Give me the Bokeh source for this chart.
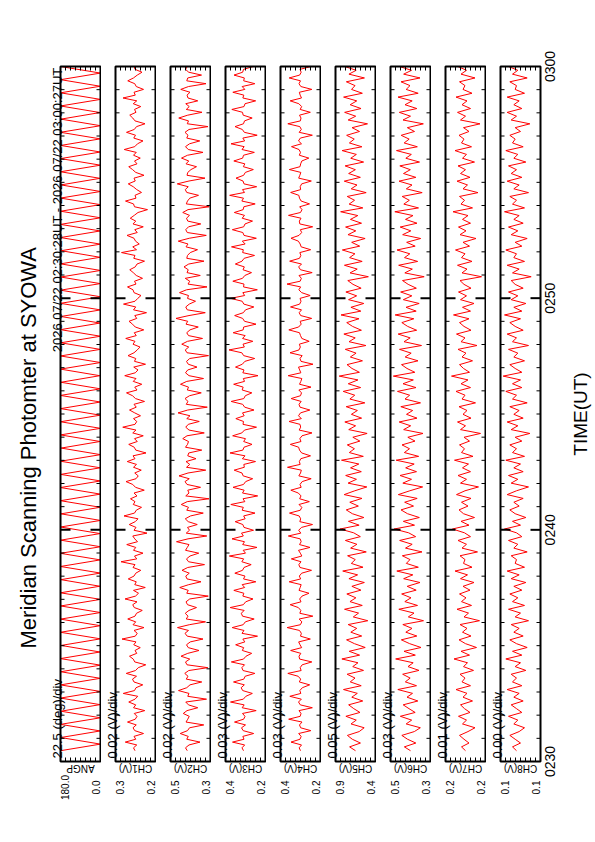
import numpy as np
from bokeh.plotting import figure
from bokeh.layouts import row
from bokeh.models import Range1d, Label
from bokeh.embed import file_html
from bokeh.resources import INLINE

# ---------------- data ----------------
TITLE = "Meridian Scanning Photomter at SYOWA"
HEADER = "2026 07/22 02:30:28UT - 2026 07/22 03:00:27UT"
TIME_LABEL = "TIME(UT)"
TIME_TICKS = [0, 10, 20, 30]              # minutes after 02:30
TIME_TICK_LABELS = ["0230", "0240", "0250", "0300"]
MINUTE_TICKS = [m for m in range(1, 30) if m % 10]
T_START = 28 / 60.0                        # first sample 02:30:28
T_END = 30.0                               # samples shown up to 03:00

NAMES = ["ANGP", "CH1(V)", "CH2(V)", "CH3(V)", "CH4(V)", "CH5(V)", "CH6(V)", "CH7(V)", "CH8(V)"]
UNITS = ["(deg)", "(V)", "(V)", "(V)", "(V)", "(V)", "(V)", "(V)", "(V)"]
RANGE_LO = [0.0, 0.18, 0.31, 0.18, 0.18, 0.44, 0.28, 0.16, 0.09]
RANGE_HI = [180.0, 0.34, 0.47, 0.42, 0.42, 0.86, 0.52, 0.24, 0.12]
N_DIV = 8

ANGP_DEG = [
180, 0, 179, 1, 180, 0, 178, 2, 180, 0, 180, 1, 179, 0, 180, 2, 177, 0, 180, 1,
180, 0, 179, 0, 180, 3, 178, 0, 180, 1, 180, 0, 179, 2, 180, 0, 178, 1, 180, 0,
180, 0, 179, 1, 180, 0, 177, 2, 180, 0, 180, 1, 179, 0, 180, 0, 178, 3, 180, 0,
180, 1, 179, 0, 180, 2, 178, 0, 180, 0, 180, 1, 179, 0, 180, 2, 177, 0, 180, 1,
180, 0, 179, 1, 180, 0, 178, 2, 180, 0, 180, 0, 179, 1, 180, 0, 178, 2, 180, 0,
180, 1, 179, 0, 180]

CH1_MV = [
262, 268, 255, 301, 259, 266, 228, 263, 270, 257, 292, 261,
254, 265, 223, 268, 259, 287, 262, 251, 309, 264, 258, 231,
266, 272, 256, 297, 260, 249, 219, 263, 269, 284, 255, 262,
241, 267, 258, 314, 261, 253, 266, 226, 270, 259, 291, 262,
256, 233, 265, 271, 254, 302, 260, 248, 268, 221, 263, 257,
289, 266, 259, 239, 270, 262, 318, 255, 264, 230, 268, 259,
295, 252, 263, 271, 214, 266, 258, 285, 261, 250, 306, 264,
257, 236, 269, 262, 280, 254, 266, 225, 260, 271, 298, 258,
249, 263, 237, 268, 256, 293, 262, 270, 218, 259, 265, 287,
253, 264, 229, 271, 258, 311, 262, 255, 268, 240, 263, 284,
257, 266, 224, 260, 272, 296, 254, 263, 235, 269, 258, 303,
261, 250, 267, 220, 264, 259, 290, 266, 253, 242, 270, 262,
299, 257, 265, 227, 261, 272, 286, 255, 263, 216, 268, 259,
308, 262, 251, 238, 266, 270, 292, 258, 264, 232, 257, 269,
283, 261, 254, 224, 267, 262, 316, 256, 271, 245, 260, 266,
294, 253, 263, 229, 270, 259, 281, 265, 250, 212, 264, 268,
300, 258, 262, 236, 255, 269, 289, 261, 266, 226, 259, 272,
287, 254, 264, 241, 268, 257, 305, 263, 252, 230, 267, 260,
296, 265, 256, 222, 262, 271, 283, 258, 264, 239, 269, 255,
310, 261, 266, 228, 257, 263, 291, 268, 253, 234, 262, 265]

CH2_MV = [
403, 410, 396, 352, 405, 399, 431, 402, 394, 337, 408, 401,
395, 419, 404, 361, 398, 409, 326, 401, 396, 438, 405, 392,
345, 407, 400, 413, 397, 321, 404, 410, 393, 428, 401, 356,
399, 406, 391, 340, 403, 412, 398, 442, 395, 330, 407, 400,
411, 396, 366, 402, 408, 393, 319, 405, 399, 433, 397, 348,
404, 409, 395, 424, 401, 334, 398, 406, 392, 357, 410, 403,
396, 446, 400, 325, 407, 394, 402, 363, 399, 411, 390, 339,
405, 398, 427, 403, 316, 409, 396, 401, 350, 404, 412, 395,
436, 400, 329, 406, 393, 408, 368, 401, 397, 345, 410, 402,
398, 421, 404, 335, 396, 409, 399, 355, 405, 392, 440, 401,
323, 407, 400, 412, 394, 347, 403, 398, 430, 405, 338, 396,
410, 401, 364, 399, 406, 393, 318, 404, 411, 397, 425, 402,
342, 398, 405, 392, 359, 408, 401, 448, 396, 331, 403, 409,
395, 370, 402, 398, 434, 406, 324, 400, 393, 411, 351, 404,
399, 416, 397, 336, 405, 402, 391, 362, 408, 400, 439, 395,
327, 403, 409, 398, 349, 401, 406, 394, 421, 400, 315, 407,
402, 393, 358, 405, 411, 399, 443, 396, 332, 404, 401, 388,
366, 408, 397, 426, 402, 340, 399, 410, 394, 353, 405, 400,
412, 396, 320, 403, 398, 437, 401, 344, 407, 395, 409, 361,
400, 404, 392, 429, 398, 328, 405, 401, 346, 397, 410, 403]

CH3_MV = [
312, 321, 305, 378, 309, 316, 251, 314, 324, 300, 366, 311,
303, 318, 236, 320, 308, 390, 313, 298, 259, 317, 326, 307,
372, 310, 302, 244, 315, 322, 306, 385, 312, 297, 263, 319,
311, 359, 304, 316, 228, 321, 309, 380, 314, 301, 248, 318,
325, 308, 392, 313, 299, 255, 316, 310, 370, 305, 320, 238,
312, 303, 364, 318, 309, 266, 322, 311, 397, 300, 314, 231,
317, 306, 381, 313, 324, 252, 309, 316, 362, 302, 311, 243,
320, 313, 388, 304, 315, 227, 318, 308, 375, 312, 299, 257,
314, 321, 368, 307, 310, 240, 319, 303, 393, 316, 309, 261,
311, 300, 377, 322, 306, 234, 315, 312, 358, 308, 318, 249,
305, 317, 386, 310, 301, 262, 320, 314, 371, 306, 313, 225,
316, 309, 360, 319, 304, 245, 311, 322, 399, 307, 315, 256,
318, 302, 374, 314, 311, 237, 306, 317, 365, 313, 300, 250,
310, 320, 389, 305, 316, 229, 312, 309, 376, 318, 304, 264,
315, 307, 361, 321, 308, 246, 317, 313, 384, 302, 319, 235,
309, 316, 379, 311, 303, 258, 320, 306, 367, 314, 310, 242,
322, 312, 395, 306, 318, 233, 309, 315, 357, 311, 301, 253,
313, 304, 370, 317, 312, 247, 321, 308, 387, 305, 316, 230,
307, 319, 363, 312, 306, 260, 314, 318, 382, 309, 303, 239,
316, 310, 376, 304, 320, 244, 311, 307, 369, 317, 312, 254]

CH4_MV = [
300, 308, 294, 357, 303, 296, 311, 238, 299, 306, 291, 371,
302, 297, 309, 229, 301, 312, 295, 364, 298, 304, 289, 245,
307, 299, 314, 376, 296, 302, 290, 232, 305, 309, 298, 359,
293, 303, 311, 241, 300, 295, 306, 380, 301, 292, 308, 226,
304, 298, 313, 362, 297, 305, 291, 249, 309, 302, 296, 368,
299, 307, 293, 234, 303, 310, 297, 355, 292, 301, 312, 243,
306, 296, 302, 373, 298, 311, 294, 228, 304, 299, 308, 366,
301, 292, 309, 247, 305, 297, 313, 358, 296, 303, 290, 236,
310, 300, 295, 378, 302, 307, 298, 240, 293, 306, 311, 361,
297, 304, 291, 231, 308, 299, 303, 369, 295, 312, 300, 244,
303, 309, 296, 356, 300, 294, 310, 237, 306, 298, 292, 374,
298, 305, 312, 225, 297, 303, 290, 363, 309, 301, 307, 248,
292, 300, 306, 370, 311, 296, 302, 233, 299, 308, 294, 360,
305, 297, 303, 242, 293, 310, 299, 381, 302, 295, 309, 230,
300, 311, 294, 365, 306, 298, 304, 239, 296, 302, 313, 357,
309, 293, 301, 227, 304, 307, 297, 372, 300, 291, 305, 246,
296, 306, 310, 359, 299, 302, 293, 235, 311, 304, 298, 367,
303, 299, 292, 250, 307, 300, 309, 354, 294, 312, 301, 229,
308, 295, 304, 376, 301, 297, 306, 241, 302, 293, 310, 362,
294, 302, 307, 232, 298, 309, 300, 368, 305, 296, 303, 238]

CH5_MV = [
650, 712, 598, 684, 735, 611, 559, 697, 642, 751, 603, 668, 722, 574, 689, 631, 776, 590, 705, 655,
738, 566, 679, 624, 793, 607, 716, 548, 661, 744, 585, 699, 637, 727, 521, 673, 618, 765, 579, 708,
646, 741, 593, 688, 557, 719, 628, 784, 571, 694, 652, 733, 537, 701, 635, 756, 599, 669, 812, 612,
724, 562, 683, 747, 620, 710, 582, 769, 657, 531, 728, 640, 753, 589, 702, 615, 797, 568, 715, 661,
736, 604, 678, 528, 721, 649, 762, 586, 693, 630, 748, 552, 709, 658, 779, 596, 726, 624, 821, 609,
687, 739, 577, 704, 644, 757, 541, 718, 653, 772, 588, 681, 742, 613, 802, 594, 698, 563, 723, 638,
751, 591, 676, 731, 515, 707, 632, 766, 580, 712, 656, 788, 606, 690, 549, 729, 647, 754, 587, 703,
626, 806, 573, 717, 660, 737, 538, 695, 634, 768, 599, 722, 651, 759, 565, 700, 641, 791, 583, 714,
663, 743, 608, 686, 524, 727, 648, 764, 592, 706, 637, 775, 578, 692, 655, 746, 556, 719, 643, 761]

CH6_MV = [
400, 437, 368, 418, 452, 377, 341, 426, 393, 461, 372, 409, 444, 356, 421, 388, 476, 364, 431, 402,
447, 349, 415, 384, 489, 371, 439, 337, 405, 455, 362, 428, 391, 446, 322, 413, 379, 470, 358, 434,
397, 453, 366, 420, 343, 441, 386, 482, 353, 425, 403, 449, 331, 430, 390, 465, 369, 411, 498, 376,
443, 347, 418, 457, 382, 435, 360, 473, 404, 327, 446, 394, 463, 364, 429, 378, 486, 351, 437, 406,
451, 373, 416, 325, 441, 399, 468, 361, 424, 387, 458, 340, 433, 405, 478, 367, 445, 383, 503, 374,
421, 454, 355, 432, 396, 466, 334, 439, 402, 474, 363, 417, 452, 380, 492, 366, 427, 348, 443, 392,
459, 365, 414, 448, 318, 434, 389, 471, 357, 436, 404, 481, 372, 423, 339, 447, 398, 462, 361, 430,
385, 494, 352, 440, 407, 450, 330, 425, 391, 469, 368, 442, 401, 464, 346, 428, 395, 484, 359, 438,
408, 456, 376, 419, 323, 445, 400, 467, 362, 433, 390, 475, 354, 426, 403, 457, 343, 441, 394, 466]

CH7_MV = [
200, 208, 193, 203, 212, 195, 181, 206, 198, 214, 191, 202, 210, 186, 205, 197, 219, 190, 207, 201,
211, 184, 204, 196, 223, 192, 209, 178, 200, 213, 189, 206, 197, 211, 172, 203, 194, 217, 188, 208,
199, 212, 191, 205, 183, 210, 196, 221, 187, 204, 201, 211, 176, 207, 198, 215, 190, 202, 226, 193,
209, 182, 204, 213, 195, 208, 189, 218, 201, 174, 210, 198, 215, 190, 206, 194, 222, 185, 208, 202,
212, 192, 203, 170, 210, 200, 216, 189, 205, 197, 213, 180, 207, 201, 219, 190, 209, 195, 228, 192,
204, 212, 186, 207, 199, 215, 177, 209, 201, 218, 189, 203, 212, 193, 224, 190, 206, 183, 210, 198,
214, 189, 203, 211, 168, 207, 197, 216, 187, 208, 201, 220, 192, 205, 179, 211, 199, 214, 190, 206,
195, 225, 186, 209, 202, 212, 175, 205, 196, 217, 191, 210, 200, 215, 182, 206, 198, 221, 188, 208,
203, 213, 193, 204, 171, 210, 200, 216, 190, 207, 197, 219, 187, 205, 201, 212, 181, 209, 198, 215]

CH8_MV = [
108, 111, 105, 109, 113, 106, 102, 110, 107, 114, 104, 108, 112, 103, 110, 106, 115, 104, 111, 108,
112, 101, 109, 105, 116, 104, 111, 100, 108, 113, 103, 110, 106, 112, 99, 109, 105, 114, 102, 111,
107, 113, 104, 110, 101, 112, 106, 115, 102, 109, 108, 112, 100, 110, 107, 114, 104, 108, 117, 105,
111, 101, 109, 113, 106, 110, 103, 115, 108, 99, 112, 107, 114, 103, 110, 105, 116, 102, 111, 108,
113, 104, 109, 98, 112, 107, 115, 103, 110, 106, 113, 100, 111, 108, 116, 104, 111, 105, 118, 104,
109, 113, 102, 110, 107, 114, 99, 111, 108, 115, 103, 109, 113, 105, 117, 104, 110, 101, 112, 107,
114, 103, 109, 112, 97, 111, 106, 115, 102, 110, 108, 116, 104, 109, 100, 112, 107, 114, 103, 110,
106, 117, 102, 111, 108, 113, 99, 110, 106, 115, 104, 112, 108, 114, 101, 110, 107, 116, 103, 111,
109, 113, 105, 109, 98, 112, 108, 115, 104, 110, 106, 115, 102, 109, 108, 113, 100, 111, 107, 114]

SERIES = [
    np.array(ANGP_DEG, dtype=float),
    np.array(CH1_MV) / 1000.0, np.array(CH2_MV) / 1000.0, np.array(CH3_MV) / 1000.0,
    np.array(CH4_MV) / 1000.0, np.array(CH5_MV) / 1000.0, np.array(CH6_MV) / 1000.0,
    np.array(CH7_MV) / 1000.0, np.array(CH8_MV) / 1000.0,
]

# ---------------- layout (pixels on the page) ----------------
FONT = "Liberation Sans"
RED = "#ff0000"
FIG_H = 830
PANEL_TOP, PANEL_H, PANEL_W = 66, 695, 40
BL_FIRST, BL = 60, 14
BR, BR_LAST = 1, 53
T0, T1 = 0.0, 30.0
PX_PER_MIN = PANEL_H / (T1 - T0)


def t_at(py):
    return T1 - (py - PANEL_TOP) / PX_PER_MIN


def txt(x, y, text, size, angle=0.0, align="left", baseline="alphabetic"):
    return Label(x=x, y=y, text=text, angle=angle, text_align=align, text_baseline=baseline,
                 text_font=FONT, text_font_size=f"{size}px", text_color="black")


figs = []
page_x = 0
n = len(NAMES)
for i in range(n):
    lo, hi = RANGE_LO[i], RANGE_HI[i]
    bl = BL_FIRST if i == 0 else BL
    br = BR_LAST if i == n - 1 else BR
    w = bl + PANEL_W + br
    fl = page_x + bl                     # panel left edge on the page
    kx = (hi - lo) / PANEL_W             # value per pixel

    def x_at(px, hi=hi, fl=fl, kx=kx):
        return hi - (px - fl) * kx

    p = figure(width=w, height=FIG_H,
               x_range=Range1d(x_at(page_x), x_at(page_x + w)),
               y_range=Range1d(t_at(FIG_H), t_at(0)),
               x_axis_location=None, y_axis_location=None, toolbar_location=None,
               output_backend="svg", min_border=0)
    p.grid.visible = False
    p.outline_line_color = None
    p.background_fill_color = "white"
    p.border_fill_color = "white"

    # data trace
    vals = SERIES[i]
    t = np.linspace(T_START, T_END, len(vals))
    p.line(vals, t, line_color=RED, line_width=1)

    # panel box
    p.quad(left=[lo], right=[hi], bottom=[T0], top=[T1], fill_color=None,
           line_color="black", line_width=2)

    # minute ticks (inward) on both long edges
    nm = len(MINUTE_TICKS)
    p.segment(x0=[hi] * nm + [lo] * nm, x1=[x_at(fl + 4)] * nm + [x_at(fl + PANEL_W - 4)] * nm,
              y0=MINUTE_TICKS * 2, y1=MINUTE_TICKS * 2, line_color="black", line_width=1)
    majors = TIME_TICKS[1:-1]
    nj = len(majors)
    p.segment(x0=[hi] * nj + [lo] * nj, x1=[x_at(fl + 10)] * nj + [x_at(fl + PANEL_W - 10)] * nj,
              y0=majors * 2, y1=majors * 2, line_color="black", line_width=2)

    # division ticks (inward) on both short edges
    div = (hi - lo) / N_DIV
    dt = [lo + k * div for k in range(1, N_DIV)]
    nd = len(dt)
    p.segment(x0=dt * 2, x1=dt * 2, y0=[T0] * nd + [T1] * nd,
              y1=[T0 + 4 / PX_PER_MIN] * nd + [T1 - 4 / PX_PER_MIN] * nd,
              line_color="black", line_width=1)

    # texts
    dtxt = f"{div:.1f}" if i == 0 else f"{div:.2f}"
    p.add_layout(txt(x_at(fl - 3), t_at(758), f"{dtxt} {UNITS[i]}/div", 13, np.pi / 2))
    p.add_layout(txt((lo + hi) / 2, t_at(768), NAMES[i], 10, np.pi, "center", "middle"))
    p.add_layout(txt(hi, t_at(787), f"{hi:.1f}", 10, np.pi / 2, "center", "top"))
    p.add_layout(txt(x_at(fl + PANEL_W - 1), t_at(787), f"{lo:.1f}", 10, np.pi / 2, "center", "bottom"))

    if i == 0:
        p.add_layout(txt(x_at(fl - 3), t_at(67), HEADER, 13, np.pi / 2, "right"))
        p.add_layout(txt(x_at(28), t_at(648), TITLE, 22, np.pi / 2, "left"))
    if i == n - 1:
        for tt, lab in zip(TIME_TICKS, TIME_TICK_LABELS):
            p.add_layout(txt(x_at(544), tt, lab, 14, np.pi / 2, "center", "top"))
        p.add_layout(txt(x_at(580), (T0 + T1) / 2, TIME_LABEL, 19, np.pi / 2, "center"))

    figs.append(p)
    page_x += w

layout = row(*figs, spacing=0)
open("out.html", "w").write(file_html(layout, INLINE))
